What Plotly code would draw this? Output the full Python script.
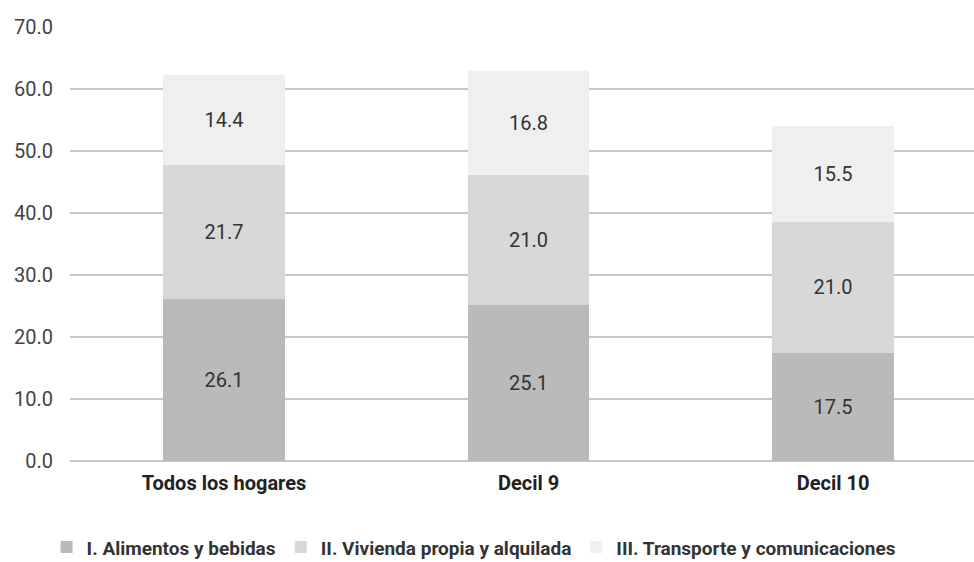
import plotly.graph_objects as go

categories = ["Todos los hogares", "Decil 9", "Decil 10"]
series_names = ["I. Alimentos y bebidas", "II. Vivienda propia y alquilada", "III. Transporte y comunicaciones"]
alimentos = [26.1, 25.1, 17.5]
vivienda = [21.7, 21.0, 21.0]
transporte = [14.4, 16.8, 15.5]
tick_vals = [0, 10, 20, 30, 40, 50, 60, 70]
tick_text = ["0.0", "10.0", "20.0", "30.0", "40.0", "50.0", "60.0", "70.0"]

colors = ["#bababa", "#d8d8d8", "#efefef"]
values = [alimentos, vivienda, transporte]

fig = go.Figure()
for name, vals, col in zip(series_names, values, colors):
    fig.add_trace(go.Bar(
        x=categories, y=vals, name=name,
        marker=dict(color=col, line=dict(width=0)),
        width=0.4,
        text=[f"{v:.1f}" for v in vals],
        textposition="inside", insidetextanchor="middle",
        textfont=dict(family="Roboto", size=20, color="#333333"),
    ))

fig.update_layout(
    barmode="stack",
    width=974, height=562,
    margin=dict(l=70, r=0, t=27, b=101, autoexpand=False),
    paper_bgcolor="white", plot_bgcolor="white",
    font=dict(family="Roboto", color="#333333"),
    showlegend=True,
    legend=dict(orientation="h", x=0.447, xanchor="center", y=-0.155, yanchor="top",
                font=dict(family="Roboto", size=19, color="#333333", weight="bold"),
                traceorder="normal", itemwidth=30, itemsizing="constant"),
    xaxis=dict(range=[-0.506, 2.463], showgrid=False, zeroline=False, showline=False,
               tickfont=dict(family="Roboto", size=20, color="#222222", weight="bold"),
               ticks="", ticklabelstandoff=8),
    yaxis=dict(range=[0, 70], tickvals=tick_vals, ticktext=tick_text,
               showgrid=True, gridcolor="#c8c8c8", gridwidth=1.5,
               zeroline=True, zerolinecolor="#c8c8c8", zerolinewidth=1.5,
               tickfont=dict(family="Roboto", size=20, color="#444444"),
               ticks="", ticklabelstandoff=16),
)

fig.write_html("out.html", config={"displayModeBar": False},
               post_script="document.body.style.margin='0';document.body.style.padding='0';")
